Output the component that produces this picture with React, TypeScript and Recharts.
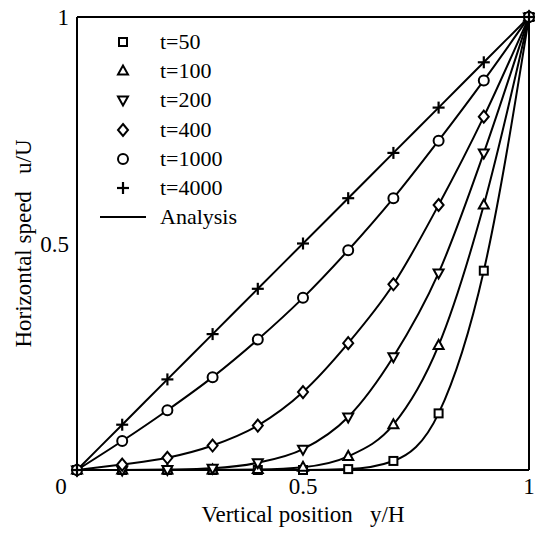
import { ComposedChart, Line, XAxis, YAxis, ReferenceLine } from 'recharts';

// horizontal position y/H of the sample points
const positions = [0, 0.1, 0.2, 0.3, 0.4, 0.5, 0.6, 0.7, 0.8, 0.9, 1];

// u/U, one list per time
const t50 = [0, 0, 0, 0, 0, 0, 0.002, 0.02, 0.125, 0.44, 1];
const t100 = [0, 0, 0, 0, 0.001, 0.006, 0.03, 0.1, 0.275, 0.585, 1];
const t200 = [0, 0, 0.001, 0.004, 0.016, 0.046, 0.117, 0.25, 0.435, 0.7, 1];
const t400 = [0, 0.012, 0.027, 0.054, 0.098, 0.172, 0.28, 0.41, 0.585, 0.78, 1];
const t1000 = [0, 0.064, 0.132, 0.205, 0.288, 0.38, 0.485, 0.6, 0.727, 0.86, 1];
const t4000 = [0, 0.1, 0.2, 0.3, 0.4, 0.5, 0.6, 0.7, 0.8, 0.9, 1];

const seriesNames = ['t=50', 't=100', 't=200', 't=400', 't=1000', 't=4000'];
const seriesValues = [t50, t100, t200, t400, t1000, t4000];
const markers = ['square', 'triangle', 'triangleDown', 'diamond', 'circle', 'plus'];

const xTicks = [0, 0.5, 1];
const yTicks = [0.5, 1];

const FONT = '"Liberation Serif", "Times New Roman", serif';
const GAP = '\u00a0\u00a0\u00a0';

const data = positions.map((x, i) => {
  const row: any = { x };
  seriesValues.forEach((vals, k) => {
    row['s' + k] = vals[i];
  });
  return row;
});

function Marker({ kind, cx, cy }: { kind: string; cx: number; cy: number }) {
  const common = { stroke: '#000', strokeWidth: 2, fill: '#fff' };
  switch (kind) {
    case 'square':
      return <rect x={cx - 4} y={cy - 4} width={8} height={8} {...common} />;
    case 'triangle':
      return <polygon points={`${cx},${cy - 5.5} ${cx - 5},${cy + 3.5} ${cx + 5},${cy + 3.5}`} {...common} />;
    case 'triangleDown':
      return <polygon points={`${cx},${cy + 5.5} ${cx - 5},${cy - 3.5} ${cx + 5},${cy - 3.5}`} {...common} />;
    case 'diamond':
      return <polygon points={`${cx},${cy - 6} ${cx + 5},${cy} ${cx},${cy + 6} ${cx - 5},${cy}`} {...common} />;
    case 'circle':
      return <circle cx={cx} cy={cy} r={5} {...common} />;
    default:
      return (
        <g stroke="#000" strokeWidth={2.2}>
          <line x1={cx - 6} y1={cy} x2={cx + 6} y2={cy} />
          <line x1={cx} y1={cy - 6} x2={cx} y2={cy + 6} />
        </g>
      );
  }
}

function LegendBox() {
  const rows = seriesNames.map((name, k) => ({ name, kind: markers[k] }));
  return (
    <div
      style={{
        position: 'absolute',
        left: 100,
        top: 27,
        fontFamily: FONT,
        fontSize: 22,
        color: '#000',
        lineHeight: 1,
      }}
    >
      {rows.map((r) => (
        <div key={r.name} style={{ display: 'flex', alignItems: 'center', height: 29.3 }}>
          <svg width={46} height={20} style={{ marginRight: 14 }}>
            <Marker kind={r.kind} cx={23} cy={10} />
          </svg>
          <span>{r.name}</span>
        </div>
      ))}
      <div style={{ display: 'flex', alignItems: 'center', height: 29.3 }}>
        <svg width={46} height={20} style={{ marginRight: 14 }}>
          <line x1={0} y1={10} x2={46} y2={10} stroke="#000" strokeWidth={2} />
        </svg>
        <span>Analysis</span>
      </div>
    </div>
  );
}

function XTick({ x, y, payload }: any) {
  const dx = payload.value === 0 ? -16 : 0;
  return (
    <text x={x + dx} y={y} dy="0.71em" textAnchor="middle" fontFamily={FONT} fontSize={23} fill="#000">
      {payload.value}
    </text>
  );
}

export default function App() {
  return (
    <div style={{ position: 'absolute', left: 0, top: 0, width: 535, height: 533, background: '#fff' }}>
      <ComposedChart
        width={535}
        height={533}
        data={data}
        margin={{ top: 17, right: 6, left: 17, bottom: 3 }}
      >
        <XAxis
          dataKey="x"
          type="number"
          domain={[0, 1]}
          ticks={xTicks}
          tick={<XTick />}
          tickLine={false}
          tickSize={0}
          tickMargin={8}
          height={60}
          axisLine={{ stroke: '#000', strokeWidth: 2 }}
          label={{
            value: 'Vertical position' + GAP + 'y/H',
            position: 'insideBottom',
            offset: 8,
            style: { fontFamily: FONT, fontSize: 23, fill: '#000' },
          }}
        />
        <YAxis
          type="number"
          domain={[0, 1]}
          ticks={yTicks}
          tickLine={false}
          tickSize={0}
          tickMargin={8}
          width={60}
          tick={{ fontFamily: FONT, fontSize: 23, fill: '#000' }}
          axisLine={{ stroke: '#000', strokeWidth: 2 }}
          label={{
            value: 'Horizontal speed' + GAP + 'u/U',
            angle: -90,
            position: 'insideLeft',
            offset: 6,
            style: { fontFamily: FONT, fontSize: 23, fill: '#000', textAnchor: 'middle' },
          }}
        />
        <ReferenceLine y={1} stroke="#000" strokeWidth={2} />
        <ReferenceLine x={1} stroke="#000" strokeWidth={2} />
        {seriesNames.map((name, k) => (
          <Line
            key={name}
            name={name}
            dataKey={'s' + k}
            type="monotone"
            stroke="#000"
            strokeWidth={2}
            isAnimationActive={false}
            dot={(p: any) => <Marker key={name + p.index} kind={markers[k]} cx={p.cx} cy={p.cy} />}
            activeDot={false}
            legendType="none"
          />
        ))}
      </ComposedChart>
      <LegendBox />
    </div>
  );
}
